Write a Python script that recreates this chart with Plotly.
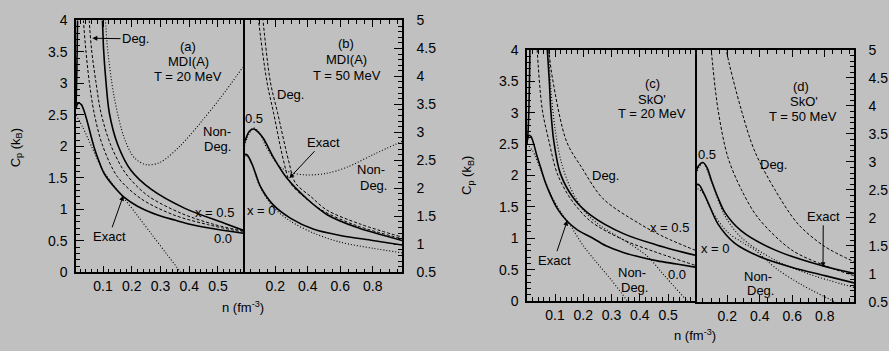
import plotly.graph_objects as go

W, H = 889, 351
BG = "#c0c0c0"

# ---------------- Panel (a): MDI(A), T = 20 MeV (left axis 0-4) ----------------
A_EX0_N = [0.006, 0.012, 0.017, 0.025, 0.035, 0.046, 0.058, 0.07, 0.087, 0.104, 0.14, 0.174, 0.22, 0.29, 0.35, 0.406, 0.5, 0.587]
A_EX0_CP = [2.6, 2.68, 2.69, 2.66, 2.55, 2.38, 2.17, 1.97, 1.75, 1.57, 1.35, 1.19, 1.05, 0.91, 0.83, 0.76, 0.68, 0.62]
A_EX05_N = [0.006, 0.009, 0.012, 0.016, 0.03, 0.06, 0.09, 0.098, 0.102, 0.11, 0.122, 0.151, 0.197, 0.267, 0.383, 0.522, 0.587]
A_EX05_CP = [2.6, 3.2, 4.2, 5.5, 8.0, 7.0, 4.6, 4.0, 3.54, 3.04, 2.53, 2.03, 1.62, 1.32, 1.02, 0.78, 0.67]
A_DEG0_N = [0.028, 0.032, 0.04, 0.052, 0.069, 0.098, 0.15, 0.232, 0.347, 0.463, 0.587]
A_DEG0_CP = [4.4, 4.0, 3.54, 3.03, 2.53, 2.02, 1.52, 1.17, 0.91, 0.76, 0.64]
A_DEG05_N = [0.047, 0.052, 0.06, 0.075, 0.093, 0.127, 0.179, 0.255, 0.371, 0.487, 0.587]
A_DEG05_CP = [4.4, 4.0, 3.54, 3.03, 2.53, 2.02, 1.57, 1.22, 0.94, 0.76, 0.66]
A_ND0_N = [0.006, 0.03, 0.06, 0.096, 0.13, 0.174, 0.22, 0.27, 0.32, 0.37, 0.40]
A_ND0_CP = [2.5, 2.3, 2.0, 1.65, 1.42, 1.17, 0.9, 0.6, 0.3, 0.0, -0.2]
A_ND05_N = [0.104, 0.11, 0.116, 0.139, 0.174, 0.209, 0.25, 0.30, 0.371, 0.44, 0.51, 0.587]
A_ND05_CP = [4.3, 3.9, 3.54, 2.78, 2.13, 1.82, 1.71, 1.75, 2.02, 2.38, 2.78, 3.26]

# ---------------- Panel (b): MDI(A), T = 50 MeV (right axis 0.5-5) ----------------
B_EX0_N = [0.0, 0.01, 0.025, 0.056, 0.08, 0.107, 0.189, 0.292, 0.437, 0.60, 0.8, 0.98]
B_EX0_CP = [2.55, 2.6, 2.6, 2.44, 2.25, 2.04, 1.70, 1.47, 1.27, 1.16, 1.07, 0.99]
B_EX05_N = [0.0, 0.02, 0.04, 0.066, 0.09, 0.127, 0.189, 0.272, 0.396, 0.519, 0.705, 0.98]
B_EX05_CP = [2.72, 2.9, 3.02, 3.06, 3.02, 2.89, 2.55, 2.18, 1.81, 1.53, 1.30, 1.07]
B_DEG0_N = [0.085, 0.097, 0.148, 0.189, 0.251, 0.292, 0.38, 0.499, 0.705, 0.98]
B_DEG0_CP = [5.4, 5.0, 3.91, 3.35, 2.49, 2.10, 1.84, 1.59, 1.33, 1.10]
B_DEG05_N = [0.11, 0.124, 0.169, 0.214, 0.282, 0.323, 0.42, 0.519, 0.725, 0.98]
B_DEG05_CP = [5.4, 5.0, 3.91, 3.35, 2.49, 2.10, 1.85, 1.61, 1.36, 1.13]
B_ND0_N = [0.0, 0.025, 0.056, 0.107, 0.189, 0.29, 0.437, 0.6, 0.8, 0.98]
B_ND0_CP = [2.55, 2.58, 2.43, 2.02, 1.66, 1.42, 1.2, 1.04, 0.93, 0.85]
B_ND05_N = [0.0, 0.03, 0.066, 0.1, 0.148, 0.231, 0.313, 0.396, 0.519, 0.643, 0.808, 0.98]
B_ND05_CP = [2.65, 2.92, 3.08, 3.0, 2.72, 2.38, 2.27, 2.24, 2.27, 2.38, 2.61, 2.84]

# ---------------- Panel (c): SkO', T = 20 MeV (left axis 0-4) ----------------
C_EX0_N = [0.0, 0.004, 0.008, 0.015, 0.025, 0.035, 0.049, 0.065, 0.085, 0.11, 0.143, 0.18, 0.226, 0.28, 0.344, 0.40, 0.462, 0.53, 0.595]
C_EX0_CP = [2.5, 2.6, 2.64, 2.62, 2.5, 2.33, 2.13, 1.9, 1.68, 1.46, 1.27, 1.13, 1.02, 0.88, 0.77, 0.70, 0.64, 0.59, 0.54]
C_EX05_N = [0.0, 0.004, 0.008, 0.011, 0.015, 0.03, 0.05, 0.068, 0.073, 0.08, 0.085, 0.096, 0.119, 0.167, 0.226, 0.344, 0.462, 0.595]
C_EX05_CP = [2.5, 2.65, 3.1, 3.9, 5.0, 7.0, 6.0, 4.5, 4.0, 3.5, 3.05, 2.54, 2.03, 1.63, 1.37, 1.07, 0.89, 0.73]
C_DEG0_N = [0.033, 0.037, 0.055, 0.079, 0.108, 0.155, 0.226, 0.344, 0.462, 0.595]
C_DEG0_CP = [4.4, 4.0, 3.05, 2.54, 2.03, 1.63, 1.27, 0.97, 0.77, 0.57]
C_DEG05_N = [0.07, 0.078, 0.091, 0.141, 0.194, 0.27, 0.403, 0.486, 0.595]
C_DEG05_CP = [4.4, 4.0, 3.55, 2.54, 2.13, 1.63, 1.22, 1.02, 0.81]
C_ND0_N = [0.0, 0.02, 0.049, 0.085, 0.12, 0.155, 0.2, 0.25, 0.3, 0.356, 0.38]
C_ND0_CP = [2.5, 2.4, 2.1, 1.7, 1.42, 1.2, 0.88, 0.6, 0.33, 0.0, -0.15]
C_ND05_N = [0.075, 0.085, 0.1, 0.12, 0.15, 0.2, 0.26, 0.344, 0.427, 0.486, 0.568, 0.595]
C_ND05_CP = [4.3, 3.4, 2.75, 2.25, 1.85, 1.45, 1.2, 0.97, 0.71, 0.41, 0.0, -0.12]

# ---------------- Panel (d): SkO', T = 50 MeV (right axis 0.5-5) ----------------
D_EX0_N = [0.0, 0.015, 0.03, 0.05, 0.081, 0.143, 0.245, 0.39, 0.595, 0.8, 0.98]
D_EX0_CP = [2.55, 2.6, 2.58, 2.47, 2.28, 1.89, 1.55, 1.32, 1.12, 0.97, 0.84]
D_EX05_N = [0.0, 0.02, 0.05, 0.075, 0.101, 0.14, 0.183, 0.286, 0.492, 0.78, 0.98]
D_EX05_CP = [2.74, 2.92, 2.99, 2.9, 2.68, 2.38, 2.11, 1.77, 1.43, 1.15, 1.01]
D_DEG0_N = [0.09, 0.101, 0.143, 0.204, 0.286, 0.39, 0.595, 0.80, 0.98]
D_DEG0_CP = [5.4, 5.0, 3.93, 3.08, 2.51, 2.0, 1.43, 1.15, 0.97]
D_DEG05_N = [0.18, 0.194, 0.286, 0.369, 0.492, 0.636, 0.80, 0.98]
D_DEG05_CP = [5.4, 5.0, 3.93, 3.19, 2.51, 1.89, 1.49, 1.22]
D_ND0_N = [0.0, 0.05, 0.1, 0.2, 0.3, 0.369, 0.5, 0.65, 0.862, 0.9]
D_ND0_CP = [2.55, 2.45, 2.15, 1.75, 1.55, 1.43, 1.1, 0.82, 0.5, 0.44]
D_ND05_N = [0.0, 0.05, 0.101, 0.183, 0.286, 0.492, 0.7, 0.98]
D_ND05_CP = [2.74, 2.99, 2.66, 2.05, 1.65, 1.25, 1.0, 0.76]

EXACT = dict(color="black", width=1.6)
DEG = dict(color="black", width=1, dash="3px,2px")
NOND = dict(color="black", width=1.1, dash="1px,2px")

panels = [
    ("x", "y", [(A_EX0_N, A_EX0_CP, EXACT), (A_EX05_N, A_EX05_CP, EXACT), (A_DEG0_N, A_DEG0_CP, DEG),
                (A_DEG05_N, A_DEG05_CP, DEG), (A_ND0_N, A_ND0_CP, NOND), (A_ND05_N, A_ND05_CP, NOND)]),
    ("x2", "y2", [(B_EX0_N, B_EX0_CP, EXACT), (B_EX05_N, B_EX05_CP, EXACT), (B_DEG0_N, B_DEG0_CP, DEG),
                  (B_DEG05_N, B_DEG05_CP, DEG), (B_ND0_N, B_ND0_CP, NOND), (B_ND05_N, B_ND05_CP, NOND)]),
    ("x3", "y3", [(C_EX0_N, C_EX0_CP, EXACT), (C_EX05_N, C_EX05_CP, EXACT), (C_DEG0_N, C_DEG0_CP, DEG),
                  (C_DEG05_N, C_DEG05_CP, DEG), (C_ND0_N, C_ND0_CP, NOND), (C_ND05_N, C_ND05_CP, NOND)]),
    ("x4", "y4", [(D_EX0_N, D_EX0_CP, EXACT), (D_EX05_N, D_EX05_CP, EXACT), (D_DEG0_N, D_DEG0_CP, DEG),
                  (D_DEG05_N, D_DEG05_CP, DEG), (D_ND0_N, D_ND0_CP, NOND), (D_ND05_N, D_ND05_CP, NOND)]),
]

fig = go.Figure()
for xa, ya, curves in panels:
    for xs, ys, ln in curves:
        fig.add_trace(go.Scatter(x=xs, y=ys, xaxis=xa, yaxis=ya, mode="lines",
                                 line=dict(shape="spline", smoothing=0.9, **ln),
                                 hoverinfo="skip", showlegend=False))


def px_x(p):
    return p / W


def px_y(p):
    return 1 - p / H


FONT = dict(family="Liberation Sans, Arial, sans-serif", size=14, color="black")
LFONT = dict(family="Liberation Sans, Arial, sans-serif", size=13, color="black")


def xaxis(d0, d1, rng, dtick, minor, anchor):
    return dict(domain=[px_x(d0), px_x(d1)], range=rng, anchor=anchor, showline=True, linecolor="black",
                linewidth=1.5, mirror="allticks", ticks="inside", ticklen=7, tickwidth=1, tickcolor="black",
                tickmode="linear", tick0=0, dtick=dtick, showgrid=False, zeroline=False,
                minor=dict(ticks="inside", ticklen=4, tickwidth=1, tickcolor="black", dtick=minor, tick0=0),
                tickfont=FONT)


def yaxis(d0, d1, rng, side, anchor):
    return dict(domain=[px_y(d1), px_y(d0)], range=rng, anchor=anchor, side=side, showline=True,
                linecolor="black", linewidth=1.5, mirror=(side == "left"), ticks="inside", ticklen=8, tickwidth=1,
                tickcolor="black", tickmode="linear", tick0=0, dtick=0.5, showgrid=False, zeroline=False,
                minor=dict(ticks="inside", ticklen=4, tickwidth=1, tickcolor="black", dtick=0.1, tick0=0),
                tickfont=FONT, ticklabelstandoff=4 if side == "left" else 10)


fig.update_layout(
    width=W, height=H, margin=dict(l=0, r=0, t=0, b=0),
    paper_bgcolor=BG, plot_bgcolor=BG, showlegend=False, font=FONT,
    xaxis=xaxis(76, 243, [0.006, 0.587], 0.1, 0.02, "y"),
    yaxis=yaxis(13, 277, [0, 4], "left", "x"),
    xaxis2=xaxis(243, 402, [0.001, 0.98], 0.2, 0.05, "y2"),
    yaxis2=yaxis(13, 277, [0.5, 5], "right", "x2"),
    xaxis3=xaxis(527, 695, [0.001, 0.595], 0.1, 0.02, "y3"),
    yaxis3=yaxis(44, 307, [0, 4], "left", "x3"),
    xaxis4=xaxis(695, 854, [0.001, 0.98], 0.2, 0.05, "y4"),
    yaxis4=yaxis(44, 308, [0.5, 5], "right", "x4"),
)

# plain text labels: (text, x_px, y_px)
LABELS = [
    ("(a)", 188, 40.5), ("MDI(A)", 188, 56), ("T = 20 MeV", 188, 71.5),
    ("Non-", 217, 129), ("Deg.", 217, 145.5), ("x = 0.5", 214, 214), ("0.0", 222.5, 242),
    ("(b)", 346, 37.5), ("MDI(A)", 346, 54), ("T = 50 MeV", 346.5, 70.5),
    ("Deg.", 290.5, 90.5), ("0.5", 254, 116), ("Non-", 371, 169), ("Deg.", 373.5, 185.5), ("x = 0", 261, 212.5),
    ("(c)", 652, 79), ("SkO'", 652, 95.5), ("T = 20 MeV", 651.5, 111),
    ("Deg.", 605, 175.5), ("x = 0.5", 669, 230.5), ("0.0", 676.5, 279), ("Non-", 631.5, 277.5), ("Deg.", 634.5, 292.5),
    ("(d)", 800.5, 82.5), ("SkO'", 803.5, 97.5), ("T = 50 MeV", 802.5, 114),
    ("0.5", 707, 154), ("Deg.", 773.5, 164), ("x = 0", 715.5, 252.5), ("Non-", 757.5, 281.5), ("Deg.", 760.5, 296),
]
for t, xp, yp in LABELS:
    fig.add_annotation(text=t, x=px_x(xp), y=px_y(yp), xref="paper", yref="paper",
                       showarrow=False, font=LFONT, xanchor="center", yanchor="middle")

# arrow labels: (text, text_x_px, text_y_px, tip_x_px, tip_y_px)
ARROWS = [
    ("Deg.", 135.5, 32.3, 92.3, 31.7),
    ("Exact", 109, 237.3, 123.3, 196.7),
    ("Exact", 323, 142.3, 289.3, 178.3),
    ("Exact", 554, 262.3, 567.3, 222.7),
    ("Exact", 823.3, 220.7, 823, 271.7),
]
for t, tx, ty, ax_, ay_ in ARROWS:
    fig.add_annotation(text=t, x=px_x(ax_), y=px_y(ay_), xref="paper", yref="paper",
                       ax=tx - ax_, ay=ty - ay_, axref="pixel", ayref="pixel",
                       showarrow=True, arrowhead=2, arrowsize=1, arrowwidth=1, arrowcolor="black",
                       font=LFONT, standoff=0)

# axis titles
YT = "C<sub>p</sub> (k<sub>B</sub>)"
XT = "n (fm<sup>-3</sup>)"
for t, xp, yp, ang in [(YT, 16, 147, -90), (YT, 468, 176, -90), (XT, 243, 313, 0), (XT, 695, 343, 0)]:
    fig.add_annotation(text=t, x=px_x(xp), y=px_y(yp), xref="paper", yref="paper", showarrow=False,
                       textangle=ang, font=LFONT, xanchor="center", yanchor="middle")

fig.write_html("out.html")
